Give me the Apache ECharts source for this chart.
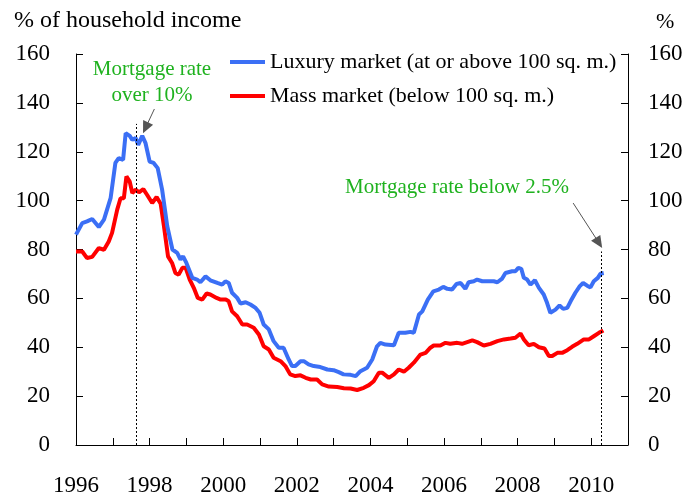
<!DOCTYPE html>
<html>
<head>
<meta charset="utf-8">
<script src="https://cdn.jsdelivr.net/npm/echarts@6/dist/echarts.min.js"></script>
<style>
  html, body { margin: 0; padding: 0; background: #fff; }
  #chart { width: 689px; height: 497px; }
</style>
</head>
<body>
<div id="chart"></div>
<script>
// values: [year, % of household income]
var luxury = [
    [1996.00, 86.1], [1996.17, 90.8], [1996.30, 91.5], [1996.44, 92.5], [1996.62, 89.2],
    [1996.76, 92.2], [1996.94, 101.0], [1997.07, 115.4], [1997.16, 117.4], [1997.28, 116.7],
    [1997.35, 127.6], [1997.46, 126.5], [1997.53, 124.9], [1997.62, 125.6], [1997.69, 122.8],
    [1997.80, 126.5], [1997.89, 123.5], [1998.00, 116.0], [1998.11, 115.4], [1998.22, 113.3],
    [1998.34, 104.5], [1998.48, 89.5], [1998.62, 80.0], [1998.75, 78.6], [1998.84, 75.9],
    [1998.91, 77.2], [1999.00, 74.5], [1999.16, 68.4], [1999.29, 67.7], [1999.38, 66.6],
    [1999.52, 69.0], [1999.65, 67.4], [1999.84, 66.3], [1999.97, 65.6], [2000.06, 67.0],
    [2000.15, 66.3], [2000.24, 62.3], [2000.38, 60.2], [2000.47, 57.9], [2000.61, 58.4],
    [2000.74, 57.5], [2000.88, 56.1], [2000.99, 54.1], [2001.10, 49.3], [2001.24, 47.3],
    [2001.37, 42.5], [2001.51, 39.8], [2001.64, 39.8], [2001.78, 35.0], [2001.87, 32.3],
    [2001.96, 32.3], [2002.10, 34.3], [2002.19, 34.3], [2002.32, 33.0], [2002.46, 32.3],
    [2002.64, 31.9], [2002.83, 30.9], [2003.00, 30.6], [2003.14, 29.8], [2003.27, 28.9],
    [2003.46, 28.7], [2003.60, 28.2], [2003.73, 30.2], [2003.91, 31.6], [2004.05, 35.0],
    [2004.18, 40.4], [2004.27, 41.8], [2004.41, 41.1], [2004.64, 40.8], [2004.77, 45.9],
    [2004.95, 45.9], [2005.09, 46.3], [2005.18, 45.9], [2005.32, 53.4], [2005.41, 54.7],
    [2005.56, 59.5], [2005.71, 62.9], [2005.86, 63.6], [2005.98, 64.7], [2006.09, 63.9],
    [2006.22, 63.6], [2006.34, 65.9], [2006.45, 66.3], [2006.58, 63.9], [2006.67, 66.6],
    [2006.81, 67.0], [2006.90, 67.7], [2007.04, 67.0], [2007.35, 67.0], [2007.45, 66.6],
    [2007.58, 68.1], [2007.67, 70.4], [2007.85, 71.1], [2007.94, 71.1], [2008.02, 72.5],
    [2008.10, 72.1], [2008.17, 68.4], [2008.26, 67.7], [2008.35, 65.6], [2008.47, 67.4],
    [2008.58, 64.3], [2008.71, 61.6], [2008.80, 58.2], [2008.89, 54.1], [2009.03, 55.4],
    [2009.14, 57.1], [2009.24, 55.7], [2009.35, 56.1], [2009.44, 58.8], [2009.57, 62.3],
    [2009.69, 65.0], [2009.78, 66.3], [2009.89, 65.2], [2009.98, 64.5], [2010.07, 67.0],
    [2010.18, 68.4], [2010.25, 70.1], [2010.34, 70.4]
];
var mass = [
    [1996.00, 79.2], [1996.17, 79.2], [1996.30, 76.5], [1996.44, 77.0], [1996.62, 80.6],
    [1996.76, 79.9], [1996.89, 83.3], [1996.98, 86.8], [1997.12, 96.3], [1997.21, 101.0],
    [1997.30, 101.0], [1997.37, 109.9], [1997.46, 107.8], [1997.53, 103.1], [1997.62, 104.5],
    [1997.71, 103.4], [1997.83, 104.7], [1997.93, 102.4], [1998.07, 99.0], [1998.19, 101.5],
    [1998.30, 98.7], [1998.39, 89.5], [1998.50, 77.2], [1998.61, 74.5], [1998.70, 70.4],
    [1998.79, 69.7], [1998.89, 72.5], [1998.98, 72.5], [1999.09, 67.7], [1999.20, 64.3],
    [1999.31, 60.2], [1999.43, 59.5], [1999.55, 62.0], [1999.65, 61.6], [1999.82, 60.2],
    [1999.93, 59.5], [2000.07, 59.5], [2000.15, 58.8], [2000.24, 54.7], [2000.38, 52.7],
    [2000.52, 49.3], [2000.65, 49.3], [2000.83, 48.0], [2000.97, 45.2], [2001.10, 40.4],
    [2001.24, 39.1], [2001.37, 35.7], [2001.56, 34.3], [2001.69, 32.3], [2001.82, 28.9],
    [2001.96, 28.2], [2002.10, 28.5], [2002.24, 27.5], [2002.38, 26.8], [2002.55, 26.8],
    [2002.69, 24.8], [2002.87, 23.9], [2003.10, 23.7], [2003.28, 23.2], [2003.46, 23.1],
    [2003.64, 22.5], [2003.82, 23.4], [2003.96, 24.5], [2004.09, 26.1], [2004.23, 29.6],
    [2004.32, 29.6], [2004.50, 27.5], [2004.64, 28.9], [2004.77, 30.9], [2004.91, 30.0],
    [2005.04, 31.6], [2005.18, 33.7], [2005.36, 37.0], [2005.50, 37.7], [2005.63, 39.8],
    [2005.72, 40.7], [2005.90, 40.7], [2006.04, 41.8], [2006.17, 41.4], [2006.36, 41.8],
    [2006.49, 41.4], [2006.63, 42.1], [2006.77, 42.8], [2006.90, 42.1], [2007.08, 40.7],
    [2007.26, 41.4], [2007.45, 42.5], [2007.63, 43.2], [2007.81, 43.6], [2007.94, 43.9],
    [2008.08, 45.6], [2008.17, 43.2], [2008.30, 40.8], [2008.44, 41.4], [2008.58, 40.0],
    [2008.73, 39.5], [2008.85, 36.4], [2008.94, 36.4], [2009.08, 37.7], [2009.21, 37.7],
    [2009.35, 38.8], [2009.48, 40.2], [2009.62, 41.4], [2009.80, 43.2], [2009.94, 43.2],
    [2010.07, 44.5], [2010.21, 45.9], [2010.33, 46.9]
];
var seriesNames = ['Luxury market (at or above 100 sq. m.)', 'Mass market (below 100 sq. m.)'];
var yearTicks = [1996, 2011, 1];      // min, max, interval
var valueTicks = [0, 160, 20];
// annotation anchors (data coordinates)
var rateHighLine = [[1997.64, 0], [1997.64, 131.4]];
var rateLowLine = [[2010.27, 0], [2010.27, 79.2]];
var rateHighArrow = [[1998.13, 137.5], [1997.89, 129.8]];
var rateLowArrow = [[2009.51, 99.0], [2010.21, 82.7]];

var serif = "'Liberation Serif', 'Times New Roman', serif";
var green = '#1fb21f';

function yAxisDef(pos, margin) {
    return {
        type: 'value',
        position: pos,
        min: valueTicks[0],
        max: valueTicks[1],
        interval: valueTicks[2],
        axisLine: { show: true, lineStyle: { color: '#000', width: 1 } },
        axisTick: { show: true, inside: true, length: 7, lineStyle: { color: '#000' } },
        axisLabel: { margin: margin, color: '#000', fontFamily: serif, fontSize: 23 },
        splitLine: { show: false }
    };
}

var chartOptions = {
    animation: false,
    backgroundColor: '#fff',
    grid: { left: 76, right: 61, top: 54, bottom: 51 },
    legend: {
        orient: 'vertical',
        left: 225,
        top: 45,
        icon: 'rect',
        itemWidth: 35,
        itemHeight: 4,
        itemGap: 10,
        textStyle: { color: '#000', fontFamily: serif, fontSize: 22, lineHeight: 24 },
        data: seriesNames
    },
    xAxis: {
        type: 'value',
        min: yearTicks[0],
        max: yearTicks[1],
        interval: yearTicks[2],
        axisLine: { show: true, onZero: false, lineStyle: { color: '#000', width: 1 } },
        axisTick: { show: true, inside: true, length: 7, lineStyle: { color: '#000' } },
        axisLabel: {
            margin: 29,
            color: '#000',
            fontFamily: serif,
            fontSize: 23,
            formatter: function (v) { return v % 2 === 0 ? String(v) : ''; }
        },
        splitLine: { show: false }
    },
    yAxis: [yAxisDef('left', 26), yAxisDef('right', 20)],
    graphic: [
        { type: 'text', left: 14, top: 9,
          style: { text: '% of household income', fill: '#000', font: '24px ' + serif } },
        { type: 'text', left: 656, top: 11,
          style: { text: '%', fill: '#000', font: '22px ' + serif } },
        { type: 'text', x: 152, y: 56,
          style: { text: 'Mortgage rate\nover 10%', fill: green, font: '21px ' + serif,
                   align: 'center', lineHeight: 26 } },
        { type: 'text', x: 345, y: 177,
          style: { text: 'Mortgage rate below 2.5%', fill: green, font: '21px ' + serif } }
    ],
    series: [
        {
            name: seriesNames[0],
            type: 'line',
            data: luxury,
            showSymbol: false,
            symbol: 'none',
            z: 3,
            itemStyle: { color: '#3b6ff5' },
            lineStyle: { color: '#3b6ff5', width: 4 },
            markLine: {
                silent: true,
                symbol: ['none', 'none'],
                label: { show: false },
                lineStyle: { color: '#000', width: 1, type: [2, 2] },
                data: [
                    [{ coord: rateHighLine[0] }, { coord: rateHighLine[1] }],
                    [{ coord: rateLowLine[0] }, { coord: rateLowLine[1] }]
                ]
            }
        },
        {
            name: seriesNames[1],
            type: 'line',
            data: mass,
            showSymbol: false,
            symbol: 'none',
            z: 2,
            itemStyle: { color: '#ff0000' },
            lineStyle: { color: '#ff0000', width: 4 },
            markLine: {
                silent: true,
                symbol: ['none', 'triangle'],
                symbolSize: [11, 12],
                label: { show: false },
                lineStyle: { color: '#555', width: 1, type: 'solid' },
                itemStyle: { color: '#000' },
                data: [
                    [{ coord: rateHighArrow[0] }, { coord: rateHighArrow[1] }],
                    [{ coord: rateLowArrow[0] }, { coord: rateLowArrow[1] }]
                ]
            }
        }
    ]
};

var chart = echarts.init(document.getElementById('chart'), null, { renderer: 'canvas' });
chart.setOption(chartOptions);
</script>
</body>
</html>
